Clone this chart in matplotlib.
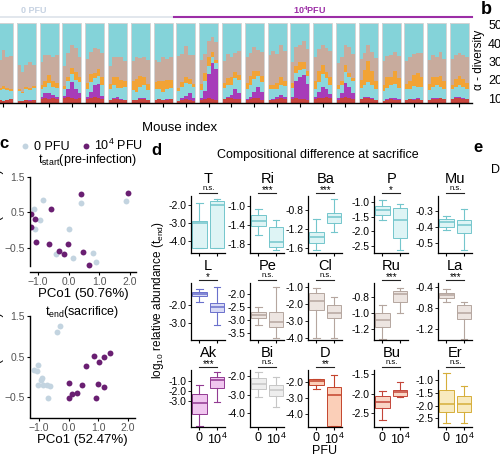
import numpy as np
import matplotlib
matplotlib.use('Agg')
import matplotlib.pyplot as plt
import matplotlib.transforms as mtransforms

plt.rcParams['font.family'] = ['Liberation Sans', 'DejaVu Sans']
plt.rcParams['mathtext.default'] = 'regular'

W, H = 500, 455

# ---------------- panel a: composition per mouse (5 samples each, % of reads)
n_zero = 8  # first 8 mice are 0 PFU, rest 10^4 PFU
red = [[4, 4, 3, 4, 5], [3, 3, 4, 3, 4], [5, 6, 5, 6, 5], [6, 7, 6, 5, 6], [5, 6, 7, 6, 5],
       [4, 5, 5, 4, 4], [4, 4, 5, 5, 4], [4, 5, 4, 4, 5], [3, 4, 5, 4, 3], [4, 5, 6, 5, 4],
       [5, 6, 6, 5, 5], [4, 5, 6, 6, 4], [4, 4, 5, 6, 5], [5, 6, 5, 5, 4], [5, 6, 6, 7, 6],
       [4, 6, 7, 6, 5], [5, 6, 6, 5, 4], [3, 4, 5, 4, 4], [4, 5, 4, 5, 4], [4, 5, 5, 6, 5],
       [5, 6, 6, 5, 5]]
purple = [[0, 0, 0, 0, 0], [0, 0, 0, 1, 0], [2, 6, 8, 4, 2], [3, 10, 20, 12, 6], [2, 8, 16, 18, 4],
          [0, 1, 2, 1, 0], [0, 0, 1, 1, 0], [0, 0, 0, 1, 0], [0, 2, 4, 8, 3], [2, 10, 30, 45, 38],
          [0, 1, 4, 12, 8], [1, 3, 8, 14, 10], [0, 1, 2, 4, 2], [2, 22, 28, 30, 20], [3, 8, 14, 10, 5],
          [2, 6, 18, 14, 8], [0, 1, 2, 1, 0], [0, 1, 1, 2, 1], [0, 0, 1, 1, 0], [0, 1, 1, 0, 0],
          [0, 1, 1, 1, 0]]
cyan_low = [[10, 12, 14, 12, 10], [12, 10, 14, 12, 15], [10, 8, 12, 10, 12], [8, 10, 10, 12, 14],
            [10, 12, 8, 10, 14], [14, 16, 12, 14, 16], [12, 10, 14, 16, 12], [14, 12, 10, 12, 14],
            [12, 14, 16, 12, 14], [10, 12, 10, 8, 8], [14, 16, 12, 14, 16], [12, 14, 16, 14, 12],
            [14, 12, 10, 12, 14], [12, 10, 8, 8, 10], [10, 12, 16, 14, 12], [12, 10, 14, 12, 14],
            [14, 16, 18, 16, 14], [12, 14, 16, 18, 14], [14, 12, 16, 14, 16], [12, 14, 16, 14, 12],
            [12, 13, 15, 14, 12]]
orange = [[2, 3, 4, 3, 2], [2, 1, 2, 3, 2], [6, 8, 10, 8, 6], [4, 6, 8, 10, 6], [8, 10, 6, 8, 10],
          [6, 10, 14, 10, 8], [12, 16, 14, 10, 8], [8, 10, 14, 12, 10], [4, 6, 8, 6, 4], [8, 10, 12, 6, 4],
          [6, 8, 10, 8, 6], [8, 12, 10, 6, 8], [4, 6, 8, 10, 6], [6, 8, 10, 8, 6], [10, 14, 12, 8, 10],
          [4, 6, 8, 6, 4], [10, 18, 26, 18, 10], [8, 14, 10, 16, 12], [6, 10, 14, 18, 12], [8, 12, 10, 14, 10],
          [6, 10, 12, 10, 8]]
tan = [[40, 35, 45, 38, 42], [30, 25, 28, 32, 26], [28, 32, 25, 30, 35], [25, 30, 28, 30, 26],
       [30, 28, 32, 25, 30], [22, 26, 24, 28, 24], [24, 28, 22, 26, 30], [28, 24, 30, 26, 28],
       [40, 35, 38, 30, 36], [30, 24, 20, 18, 22], [28, 30, 26, 24, 30], [32, 28, 30, 26, 30],
       [38, 42, 36, 40, 38], [26, 24, 22, 26, 28], [30, 28, 24, 30, 32], [28, 30, 26, 32, 30],
       [26, 22, 20, 24, 28], [30, 26, 28, 24, 28], [28, 30, 26, 24, 30], [30, 28, 26, 30, 28],
       [32, 30, 28, 30, 32]]

# ---------------- panel b: alpha diversity axis (cut off)
alpha_ticks = [10, 20, 30, 40, 50]

# ---------------- panel c: PCoA coordinates
pre_zero_x = [-0.84, 0.4, 1.88, -1.14, -0.94, -1.1, 0.0, -0.42, 0.14, 0.8, 0.91]
pre_zero_y = [0.85, 0.77, 0.83, 0.61, 0.29, 0.03, 0.03, -0.68, -0.79, -0.64, -0.89]
pre_inf_x = [0.4, 1.95, -0.59, -1.23, -1.1, -1.23, -1.05, -0.65, -0.31, -0.02, -0.14, 0.47, 0.67]
pre_inf_y = [1.03, 1.06, 0.59, 0.45, 0.31, 0.08, -0.33, -0.4, -0.6, -0.39, -0.67, -0.63, -0.99]
end_zero_x = [-0.3, -0.39, -1.03, -1.17, -1.08, -0.89, -0.94, -1.02, -0.87, -0.72, -0.64, -0.69]
end_zero_y = [1.25, 1.11, 0.3, 0.17, 0.13, -0.02, -0.07, -0.2, -0.2, -0.2, -0.22, -0.52]
end_inf_x = [0.59, 0.87, 1.03, 1.2, 1.41, 0.0, 0.46, 0.98, 1.19, 0.28, 0.12, 0.0, 0.94]
end_inf_y = [0.27, 0.52, 0.36, 0.5, 0.58, -0.16, -0.2, -0.17, -0.25, -0.39, -0.43, -0.52, -0.52]

# ---------------- panel d: box stats (whislo, q1, med, q3, whishi)
taxa = ['T', 'Ri', 'Ba', 'P', 'Mu', 'L', 'Pe', 'Cl', 'Ru', 'La', 'Ak', 'Bi', 'D', 'Bu', 'Er']
signif = ['n.s.', '***', '***', '*', 'n.s.', '*', 'n.s.', 'n.s.', '***', '***',
          '***', 'n.s.', '**', 'n.s.', 'n.s.']
box_zero = [(-4.4, -4.4, -3.0, -2.9, -1.85), (-1.61, -1.43, -1.32, -1.2, -1.06),
            (-1.65, -1.5, -1.37, -1.25, -0.98), (-1.6, -1.43, -1.28, -1.12, -0.91),
            (-0.42, -0.40, -0.37, -0.35, -0.33), (-1.81, -1.49, -1.38, -1.25, -1.11),
            (-3.18, -2.92, -2.8, -2.67, -2.48), (-4.04, -2.37, -1.82, -1.39, -1.1),
            (-1.32, -1.17, -1.08, -1.0, -0.9), (-0.68, -0.62, -0.56, -0.51, -0.45),
            (-5.48, -4.34, -3.2, -2.28, -1.34), (-3.15, -2.69, -2.41, -2.13, -1.8),
            (-2.46, -2.21, -1.96, -1.83, -1.79), (-2.66, -2.37, -2.22, -2.05, -1.93),
            (-2.68, -2.24, -1.93, -1.37, -0.71)]
box_inf = [(-4.4, -4.4, -2.0, -1.75, -1.62), (-1.93, -1.86, -1.75, -1.44, -1.29),
           (-1.25, -1.07, -0.94, -0.85, -0.55), (-2.65, -2.21, -1.6, -1.2, -1.05),
           (-0.54, -0.44, -0.39, -0.36, -0.29), (-3.13, -2.38, -2.13, -1.87, -0.96),
           (-3.68, -3.24, -3.05, -2.67, -1.72), (-4.04, -2.86, -2.57, -2.08, -1.59),
           (-1.0, -0.86, -0.76, -0.73, -0.69), (-1.39, -1.0, -0.9, -0.74, -0.68),
           (-3.07, -1.69, -0.9, -0.55, -0.1), (-3.7, -3.06, -2.78, -2.5, -2.04),
           (-4.74, -4.74, -2.8, -2.32, -1.54), (-2.07, -2.05, -1.96, -1.89, -1.7),
           (-2.68, -2.24, -1.93, -1.64, -1.21)]
yticks_d = [[-2.0, -3.0, -4.0], [-1.0, -1.4, -1.8], [-0.8, -1.2, -1.6], [-1.0, -1.5, -2.0, -2.5],
            [-0.3, -0.4, -0.5], [-2.0, -3.0], [-2.0, -2.5, -3.0, -3.5], [-1.0, -2.0, -3.0, -4.0],
            [-0.8, -1.0, -1.2], [-0.4, -0.8, -1.2], [-1.0, -2.0, -3.0], [-2.0, -3.0, -4.0],
            [-2.0, -3.0, -4.0], [-1.5, -2.0, -2.5], [-1.0, -1.5, -2.0, -2.5]]
ylims_d = [(-4.67, -1.47), (-1.99, -0.79), (-1.71, -0.49), (-2.74, -0.79), (-0.56, -0.21),
           (-3.98, -0.75), (-3.75, -1.58), (-4.14, -0.78), (-1.33, -0.63), (-1.4, -0.33),
           (-5.6, 0.14), (-4.76, -1.67), (-4.78, -1.26), (-2.85, -1.39), (-2.84, -0.6)]

# colours (edge, fill) per taxon
cyan_c = ('#74c6cc', '#def4f5')
tan_c = ('#b5a69f', '#ede5e1')
box_cols = [cyan_c] * 5 + [('#6a70cc', '#d8daf5'), tan_c, tan_c, tan_c, tan_c,
                           ('#923a92', '#f0c6ef'), ('#c6c6c6', '#eeeeee'),
                           ('#c4442c', '#fbcfb8'), ('#c4463a', '#f9d6c6'), ('#d6ae3a', '#f8eabf')]

c_zero = '#c3d4e0'
c_inf = '#6a1f72'


def rect(l, t, r, b):
    return [l / W, 1 - b / H, (r - l) / W, (b - t) / H]


def ftext(x, y, s, **kw):
    fig.text(x / W, 1 - y / H, s, **kw)


fig = plt.figure(figsize=(5, 4.55), dpi=100)

# ================= panel a
ax = fig.add_axes(rect(0, 23, 472, 103))
n_t = 5
period = n_t + 1
layers = [red, purple, cyan_low, orange, tan]
layer_cols = ['#c9453d', '#a73cb9', '#8bd6dc', '#f2a335', '#c8ab9d']
n_mice = len(red)
for i in range(n_mice):
    x = period * i + np.arange(n_t) + 0.5
    bottom = np.zeros(n_t)
    for vals, col in zip(layers, layer_cols):
        v = np.array(vals[i], float)
        ax.bar(x, v, 1.0, bottom=bottom, color=col, lw=0)
        bottom += v
    ax.bar(x, 100 - bottom, 1.0, bottom=bottom, color='#84d3d9', lw=0)
    ax.bar(period * i + n_t / 2, 100, n_t, fill=False, edgecolor='#d4d4d4', lw=0.7)
ax.set_xlim(1.58, 125.8)
ax.set_ylim(0, 100)
ax.set_xticks(period * np.arange(n_mice) + n_t / 2)
ax.set_yticks([])
ax.tick_params(axis='x', length=3, width=0.8, labelbottom=False)
for s in ['top', 'right', 'left']:
    ax.spines[s].set_visible(False)
ax.spines['bottom'].set_linewidth(1.0)
# group brackets
ax.plot([0, period * n_zero - 1], [108, 108], color='#dde3ea', lw=1.2, clip_on=False)
ax.plot([period * n_zero - 0.5, period * n_mice - 0.2], [108, 108], color='#9c2ea6', lw=1.5, clip_on=False)
ax.text(7, 116, '0 PFU', color='#c6d2e2', fontsize=6.5, fontweight='bold', ha='left', va='center')
ax.text(83, 116, '10$^4$PFU', color='#9c2ea6', fontsize=6.5, fontweight='bold', ha='center', va='center')
ftext(180, 128, 'Mouse index', ha='center', va='center', fontsize=9.5)

# ================= panel b (mostly outside the crop)
axb = fig.add_axes(rect(511, 20, 580, 103))
axb.set_ylim(7.3, 52.7)
axb.set_yticks(alpha_ticks)
axb.set_xticks([])
axb.tick_params(axis='y', labelsize=9, length=3)
for s in ['top', 'right', 'bottom']:
    axb.spines[s].set_visible(False)
ftext(479, 60, 'α - diversity', rotation=90, ha='center', va='center', fontsize=8.5)
ftext(486, 9, 'b', fontsize=13, fontweight='bold', ha='center', va='center')

# ================= panel c


def pcoa(ax, zx, zy, ix, iy, xlim, ylim, xlabel):
    ax.scatter(zx, zy, s=18, color=c_zero, lw=0, label='0 PFU')
    ax.scatter(ix, iy, s=18, color=c_inf, lw=0, label='10$^4$ PFU')
    ax.set_xlim(*xlim)
    ax.set_ylim(*ylim)
    ax.set_xticks([-1, 0, 1, 2])
    ax.set_xticklabels(['−1.0', '0.0', '1.0', '2.0'])
    ax.set_yticks([1.5, 0.5, -0.5])
    ax.set_yticklabels(['1.5', '0.5', '−0.5'])
    ax.tick_params(labelsize=7.5, length=2, labelcolor='#555555', pad=1.5)
    for s in ['top', 'right']:
        ax.spines[s].set_visible(False)
    ax.spines['left'].set_bounds(-1.0, 1.5)
    ax.spines['left'].set_linewidth(1.0)
    ax.spines['bottom'].set_linewidth(1.0)
    ax.set_xlabel(xlabel, fontsize=9.5, labelpad=1)


axc1 = fig.add_axes(rect(30, 172, 136, 272))
pcoa(axc1, pre_zero_x, pre_zero_y, pre_inf_x, pre_inf_y, (-1.26, 2.2), (-1.18, 1.64), 'PCo1 (50.76%)')
ftext(88, 160, '$t_{start}$(pre-infection)', ha='center', va='center', fontsize=9)
axc1.legend(loc='center', bbox_to_anchor=((82 - 30) / 106, 1 + (172 - 145) / 100), ncol=2,
            frameon=False, fontsize=9, handlelength=0.7, handletextpad=0.3, columnspacing=1.0,
            borderpad=0, markerscale=1.0)
ftext(-2, 212, 'PCo2 (20.26%)', rotation=90, ha='center', va='center', fontsize=9)

axc2 = fig.add_axes(rect(30, 312, 135, 418))
pcoa(axc2, end_zero_x, end_zero_y, end_inf_x, end_inf_y, (-1.3, 2.24), (-1.02, 1.6), 'PCo1 (52.47%)')
ftext(82, 312, '$t_{end}$(sacrifice)', ha='center', va='center', fontsize=9)
ftext(-2, 355, 'PCo2 (17.72%)', rotation=90, ha='center', va='center', fontsize=9)

ftext(4, 144, 'c', fontsize=12, fontweight='bold', ha='center', va='center')
ftext(156, 151, 'd', fontsize=12, fontweight='bold', ha='center', va='center')
ftext(478, 148, 'e', fontsize=12, fontweight='bold', ha='center', va='center')
ftext(495, 170, 'D', fontsize=9, ha='center', va='center')

# ================= panel d
ftext(318, 155, 'Compositional difference at sacrifice', ha='center', va='center', fontsize=9)
ftext(158, 300, 'log$_{10}$ relative abundance ($t_{end}$)', rotation=90,
      ha='center', va='center', fontsize=8.5)
ftext(325, 451, 'PFU', ha='center', va='center', fontsize=9)

col_left = [191, 250, 308, 374, 438]
row_top = [196, 283, 370]
pw, ph = 34, 57
for k, name in enumerate(taxa):
    r, c = divmod(k, 5)
    l, t = col_left[c], row_top[r]
    axd = fig.add_axes(rect(l, t, l + pw, t + ph))
    edge, fill = box_cols[k]
    stats = []
    for b in (box_zero[k], box_inf[k]):
        stats.append(dict(whislo=b[0], q1=b[1], med=b[2], q3=b[3], whishi=b[4], fliers=[]))
    axd.bxp(stats, positions=[0, 1], widths=0.82, patch_artist=True, showfliers=False,
            boxprops=dict(facecolor=fill, edgecolor=edge, lw=0.7),
            medianprops=dict(color=edge, lw=1.1),
            whiskerprops=dict(color=edge, lw=0.8),
            capprops=dict(color=edge, lw=0.8), capwidths=0.35)
    axd.set_xlim(-0.48, 1.45)
    axd.set_ylim(*ylims_d[k])
    axd.set_yticks(yticks_d[k])
    axd.set_yticklabels(['%.1f' % v for v in yticks_d[k]])
    axd.set_xticks([0, 1])
    if r == 2:
        axd.set_xticklabels(['0', '10$^4$'])
    else:
        axd.set_xticklabels([])
    axd.tick_params(axis='y', labelsize=7.5, length=2, pad=1, width=0.6)
    axd.tick_params(axis='x', labelsize=9, length=2, pad=1.5, width=0.8)
    for s in ['top', 'right']:
        axd.spines[s].set_visible(False)
    axd.spines['left'].set_linewidth(0.9)
    axd.spines['bottom'].set_linewidth(0.9)
    tr = mtransforms.blended_transform_factory(axd.transData, axd.transAxes)
    axd.plot([0, 1], [1.06, 1.06], color='#222222', lw=0.8, transform=tr, clip_on=False)
    if signif[k] == 'n.s.':
        axd.text(0.5, 1.075, 'n.s.', transform=tr, ha='center', va='bottom', fontsize=5.5)
    else:
        axd.text(0.5, 1.02, signif[k], transform=tr, ha='center', va='bottom', fontsize=7)
    axd.text(0.5, 1.30, name, transform=tr, ha='center', va='center', fontsize=10.5)

fig.savefig('out.png', dpi=100)
